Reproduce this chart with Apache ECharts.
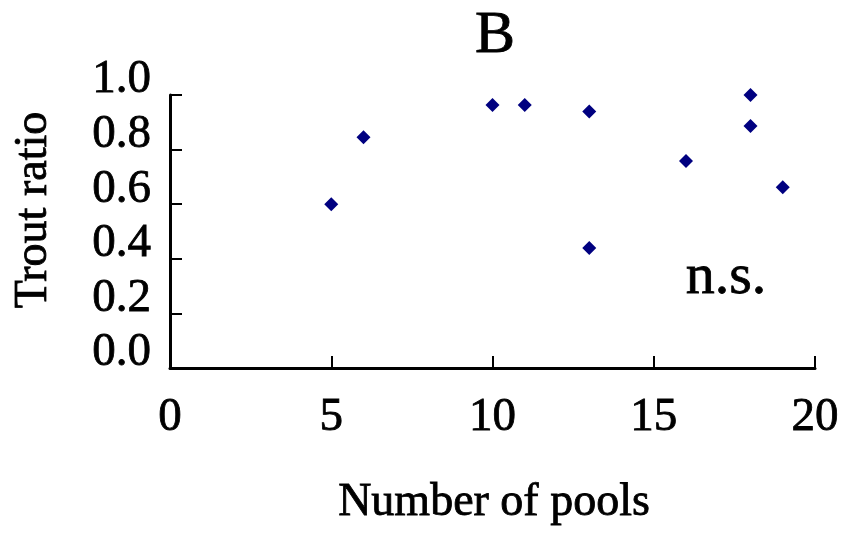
<!DOCTYPE html>
<html>
<head>
<meta charset="utf-8">
<script src="https://cdn.jsdelivr.net/npm/echarts@6/dist/echarts.min.js"></script>
<style>
html, body { margin: 0; padding: 0; background: #fff; }
#chart { width: 849px; height: 535px; }
</style>
</head>
<body>
<div id="chart"></div>
<script>
// pools per stream vs trout ratio
var pools = [5, 6, 10, 11, 13, 13, 16, 18, 18, 19];
var troutRatio = [0.60, 0.845, 0.963, 0.963, 0.94, 0.44, 0.758, 1.0, 0.886, 0.662];
var xTicks = [0, 5, 10, 15, 20];
var yTicks = ['0.0', '0.2', '0.4', '0.6', '0.8', '1.0'];

var points = [];
for (var i = 0; i < pools.length; i++) {
    points.push([pools[i], troutRatio[i]]);
}

var serif = '"Liberation Serif", "DejaVu Serif", serif';
var myChart = echarts.init(document.getElementById('chart'));

var option = {
    backgroundColor: '#fff',
    animation: false,
    grid: {
        left: 170,
        right: 34,
        top: 95,
        bottom: 167
    },
    xAxis: {
        type: 'value',
        min: xTicks[0],
        max: xTicks[xTicks.length - 1],
        interval: 5,
        axisLine: { onZero: false, lineStyle: { color: '#000', width: 3 } },
        axisTick: { inside: true, length: 12, lineStyle: { color: '#000', width: 2 } },
        axisLabel: {
            margin: 26,
            fontFamily: serif,
            fontSize: 47,
            lineHeight: 47,
            color: '#000',
            textBorderColor: '#000',
            textBorderWidth: 0.8
        },
        splitLine: { show: false }
    },
    yAxis: {
        type: 'value',
        min: 0,
        max: 1,
        interval: 0.2,
        axisLine: { show: true, lineStyle: { color: '#000', width: 3 } },
        axisTick: { show: true, inside: true, length: 12, lineStyle: { color: '#000', width: 2 } },
        axisLabel: {
            margin: 19,
            fontFamily: serif,
            fontSize: 47,
            lineHeight: 30,
            verticalAlign: 'bottom',
            color: '#000',
            textBorderColor: '#000',
            textBorderWidth: 0.8,
            formatter: function (v) {
                return yTicks[Math.round(v * 5)];
            }
        },
        splitLine: { show: false }
    },
    graphic: [
        {
            type: 'text',
            x: 495, y: 36,
            style: { text: 'B', font: '60px ' + serif, fill: '#000', stroke: '#000', lineWidth: 0.8, textAlign: 'center', textVerticalAlign: 'middle' }
        },
        {
            type: 'text',
            x: 726, y: 278,
            style: { text: 'n.s.', font: '58px ' + serif, fill: '#000', stroke: '#000', lineWidth: 0.8, textAlign: 'center', textVerticalAlign: 'middle' }
        },
        {
            type: 'text',
            x: 494, y: 503,
            style: { text: 'Number of pools', font: '46px ' + serif, fill: '#000', stroke: '#000', lineWidth: 0.8, textAlign: 'center', textVerticalAlign: 'middle' }
        },
        {
            type: 'text',
            x: 34, y: 210,
            rotation: Math.PI / 2,
            style: { text: 'Trout ratio', font: '46px ' + serif, fill: '#000', stroke: '#000', lineWidth: 0.8, textAlign: 'center', textVerticalAlign: 'middle' }
        }
    ],
    series: [
        {
            type: 'scatter',
            data: points,
            symbol: 'diamond',
            symbolSize: 14,
            itemStyle: { color: '#000080', opacity: 1 }
        }
    ]
};

myChart.setOption(option);
</script>
</body>
</html>
